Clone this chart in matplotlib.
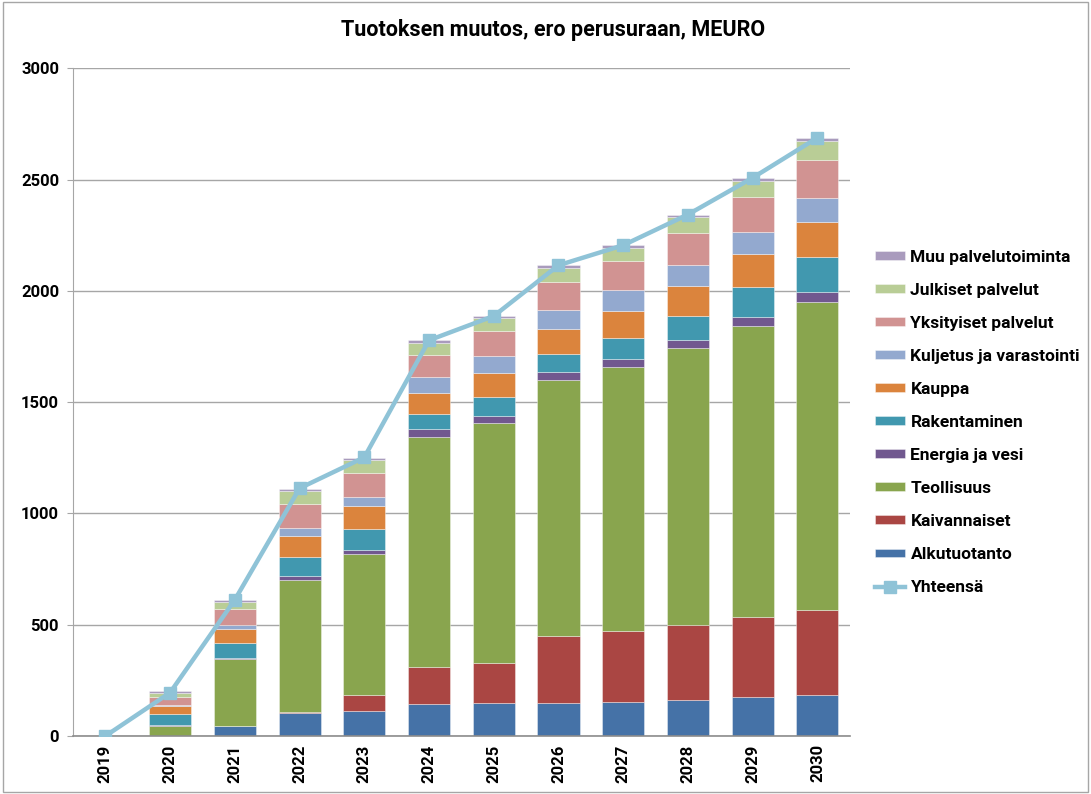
import matplotlib
matplotlib.use("Agg")
import matplotlib.pyplot as plt
from matplotlib.patches import Rectangle
import numpy as np

# ---------------------------------------------------------------------------
# Data (MEURO)
# ---------------------------------------------------------------------------
years = ["2019", "2020", "2021", "2022", "2023", "2024",
         "2025", "2026", "2027", "2028", "2029", "2030"]

alkutuotanto = [0, 0, 45, 103, 111, 144, 147, 147, 153, 160, 174, 183]
kaivannaiset = [0, 0, 0, 6, 75, 167, 183, 304, 319, 341, 359, 384]
teollisuus = [0, 45, 300, 593, 632, 1033, 1076, 1148, 1185, 1241, 1309, 1383]
energia = [0, 3, 6, 18, 19, 35, 33, 35, 39, 39, 40, 43]
rakentaminen = [0, 49, 69, 85, 93, 66, 83, 84, 94, 106, 137, 157]
kauppa = [0, 36, 60, 94, 103, 94, 108, 111, 119, 135, 146, 159]
kuljetus = [0, 5, 18, 36, 39, 75, 79, 87, 93, 96, 99, 106]
yksityiset = [0, 37, 73, 108, 111, 99, 112, 126, 133, 142, 159, 173]
julkiset = [0, 18, 30, 58, 58, 54, 57, 61, 58, 70, 70, 85]
muu = [0, 8, 8, 10, 10, 13, 10, 13, 12, 13, 15, 15]
yhteensa = [0, 195, 612, 1113, 1252, 1778, 1887, 2115, 2205, 2343, 2508, 2688]

series = [
    ("Alkutuotanto", alkutuotanto, "#4572A7"),
    ("Kaivannaiset", kaivannaiset, "#AA4643"),
    ("Teollisuus", teollisuus, "#89A54E"),
    ("Energia ja vesi", energia, "#71588F"),
    ("Rakentaminen", rakentaminen, "#4198AF"),
    ("Kauppa", kauppa, "#DB843D"),
    ("Kuljetus ja varastointi", kuljetus, "#93A9CF"),
    ("Yksityiset palvelut", yksityiset, "#D19392"),
    ("Julkiset palvelut", julkiset, "#B9CD96"),
    ("Muu palvelutoiminta", muu, "#A99BBD"),
]
line_color = "#8FC3D7"

plt.rcParams["font.family"] = ["Roboto", "DejaVu Sans"]
plt.rcParams["font.weight"] = "bold"

fig = plt.figure(figsize=(10.91, 7.94), dpi=100)
ax = fig.add_axes([0.0669, 0.073, 0.712, 0.841])

x = np.arange(len(years))
bottom = np.zeros(len(years))
handles = []
for name, vals, color in series:
    vals = np.array(vals, dtype=float)
    bars = ax.bar(x, vals, width=0.65, bottom=bottom, color=color,
                  edgecolor=(1, 1, 1, 0.45), linewidth=0.6, label=name,
                  zorder=2)
    handles.append(bars)
    bottom += vals

line, = ax.plot(x, yhteensa, color=line_color, lw=3.2, marker="s",
                markersize=9, markeredgecolor=line_color, zorder=3,
                label="Yhteensä")

ax.set_xlim(-0.5, len(years) - 0.5)
ax.set_ylim(0, 3000)
ax.set_yticks(np.arange(0, 3001, 500))
ax.yaxis.grid(True, color="#A6A6A6", linewidth=1.0, zorder=0)
ax.set_axisbelow(True)

for side in ("top", "right"):
    ax.spines[side].set_visible(False)
ax.spines["left"].set_color("#A6A6A6")
ax.spines["bottom"].set_color("#8C8C8C")
ax.spines["bottom"].set_linewidth(1.2)

ax.set_xticks(x)
ax.set_xticklabels(years, rotation=90, fontsize=12, fontweight="bold")
ax.tick_params(axis="x", length=0, pad=6)
ax.tick_params(axis="y", length=4, color="#A6A6A6", labelsize=12, pad=6)
for lab in ax.get_yticklabels():
    lab.set_fontweight("bold")

fig.text(0.507, 0.962, "Tuotoksen muutos, ero perusuraan, MEURO",
         ha="center", va="center", fontsize=15.5, fontweight="bold")

leg_handles = handles[::-1] + [line]
leg_labels = [s[0] for s in series][::-1] + ["Yhteensä"]
fig.legend(leg_handles, leg_labels, loc="center left",
           bbox_to_anchor=(0.796, 0.468), frameon=False,
           prop={"size": 12.5, "weight": "bold"},
           labelspacing=1.04, handlelength=1.72, handleheight=0.4,
           handletextpad=0.3, borderaxespad=0)

# outer chart border
fig.patches.append(Rectangle((0.003, 0.003), 0.994, 0.994,
                             transform=fig.transFigure, fill=False,
                             edgecolor="#A6A6A6", linewidth=1.0))

fig.savefig("out.png", dpi=100)
